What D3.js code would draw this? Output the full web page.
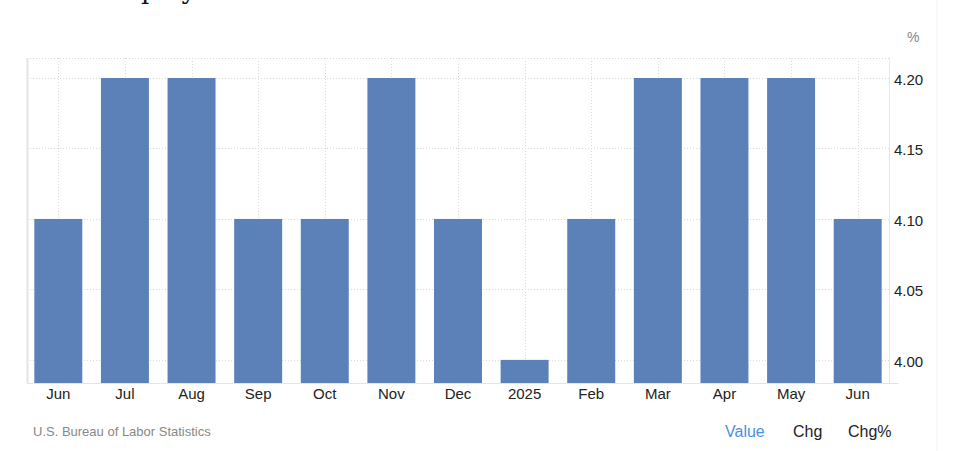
<!DOCTYPE html>
<html>
<head>
<meta charset="utf-8">
<script src="https://cdn.jsdelivr.net/npm/d3@7"></script>
<style>
  body { margin: 0; background: #fff; }
  svg { display: block; font-family: "Liberation Sans", Arial, sans-serif; }
</style>
</head>
<body>
<div id="chart"></div>
<script>
// data
var months = ["Jun", "Jul", "Aug", "Sep", "Oct", "Nov", "Dec", "2025", "Feb", "Mar", "Apr", "May", "Jun "];
var rates = [4.1, 4.2, 4.2, 4.1, 4.1, 4.2, 4.1, 4.0, 4.1, 4.2, 4.2, 4.2, 4.1];
var yTicks = [4.00, 4.05, 4.10, 4.15, 4.20];

var width = 963, height = 451;
var plot = {left: 27, right: 889, top: 58, bottom: 383};

var svg = d3.select("#chart")
   .append("svg")
   .attr("width", width)
   .attr("height", height);

var x = d3.scaleBand()
   .domain(months)
   .range([plot.left, plot.right])
   .paddingInner(0.28)
   .paddingOuter(0.11);

var y = d3.scaleLinear()
   .domain([3.9836, 4.2142])
   .range([plot.bottom, plot.top]);

//Heading cut off at the top of the page, as in the screenshot
var head = svg.append("text")
   .text("Unemployment Rate")
   .attr("y", -1)
   .style("font-family", "'DejaVu Serif', 'Liberation Serif', serif")
   .style("font-size", "26px")
   .style("fill", "#111");
var prefix = svg.append("text").text("Unem")
   .style("font-family", "'DejaVu Serif', 'Liberation Serif', serif")
   .style("font-size", "26px");
var pre = prefix.node().getComputedTextLength();
prefix.remove();
head.attr("x", 141 - pre);

//faint page border on the right
svg.append("line")
   .attr("x1", 937).attr("x2", 937)
   .attr("y1", 0).attr("y2", height)
   .style("stroke", "#f2f2f2");

//horizontal grid
svg.append("g")
   .selectAll("line")
   .data(yTicks.concat([y.domain()[1]]))
   .enter().append("line")
   .attr("x1", plot.left)
   .attr("x2", plot.right)
   .attr("y1", function(d) { return Math.round(y(d)) + 0.5; })
   .attr("y2", function(d) { return Math.round(y(d)) + 0.5; })
   .style("stroke", "#d9d9d9")
   .style("stroke-dasharray", "1,2");

//vertical grid at month centres
svg.append("g")
   .selectAll("line")
   .data(months)
   .enter().append("line")
   .attr("x1", function(d) { return Math.round(x(d) + x.bandwidth() / 2) + 0.5; })
   .attr("x2", function(d) { return Math.round(x(d) + x.bandwidth() / 2) + 0.5; })
   .attr("y1", plot.top)
   .attr("y2", plot.bottom)
   .style("stroke", "#d9d9d9")
   .style("stroke-dasharray", "1,2");

//left and right borders
svg.append("line")
   .attr("x1", plot.left + 0.5).attr("x2", plot.left + 0.5)
   .attr("y1", plot.top).attr("y2", plot.bottom)
   .style("stroke", "#e4e4e4").style("stroke-width", 2);
svg.append("line")
   .attr("x1", plot.right + 0.5).attr("x2", plot.right + 0.5)
   .attr("y1", plot.top).attr("y2", plot.bottom)
   .style("stroke", "#e8e8e8");

//bars
svg.append("g")
   .selectAll("rect")
   .data(rates)
   .enter().append("rect")
   .attr("x", function(d, i) { return x(months[i]); })
   .attr("y", function(d) { return y(d); })
   .attr("width", x.bandwidth())
   .attr("height", function(d) { return plot.bottom - y(d); })
   .style("fill", "#5b81b8");

//bottom axis line
svg.append("line")
   .attr("x1", plot.left).attr("x2", plot.right + 10)
   .attr("y1", plot.bottom + 0.5).attr("y2", plot.bottom + 0.5)
   .style("stroke", "#e4e4e4");

//x labels
svg.append("g")
   .selectAll("text")
   .data(months)
   .enter().append("text")
   .text(function(d) { return d.trim(); })
   .attr("x", function(d) { return x(d) + x.bandwidth() / 2; })
   .attr("y", 399)
   .attr("text-anchor", "middle")
   .style("font-size", "15px")
   .style("fill", "#222");

//y labels on the right
svg.append("g")
   .selectAll("text")
   .data(yTicks)
   .enter().append("text")
   .text(function(d) { return d.toFixed(2); })
   .attr("x", 894)
   .attr("y", function(d) { return y(d) + 2; })
   .attr("dy", "0.32em")
   .style("font-size", "15px")
   .style("fill", "#222");

svg.append("text")
   .text("%")
   .attr("x", 907)
   .attr("y", 42)
   .style("font-size", "14px")
   .style("fill", "#888");

//footer
svg.append("text")
   .text("U.S. Bureau of Labor Statistics")
   .attr("x", 33)
   .attr("y", 436)
   .style("font-size", "13px")
   .style("fill", "#888");

var tabs = [{t: "Value", x: 725, c: "#4a90e2"}, {t: "Chg", x: 793, c: "#222"}, {t: "Chg%", x: 848, c: "#222"}];
svg.append("g")
   .selectAll("text")
   .data(tabs)
   .enter().append("text")
   .text(function(d) { return d.t; })
   .attr("x", function(d) { return d.x; })
   .attr("y", 437)
   .style("font-size", "16px")
   .style("fill", function(d) { return d.c; });
</script>
</body>
</html>
